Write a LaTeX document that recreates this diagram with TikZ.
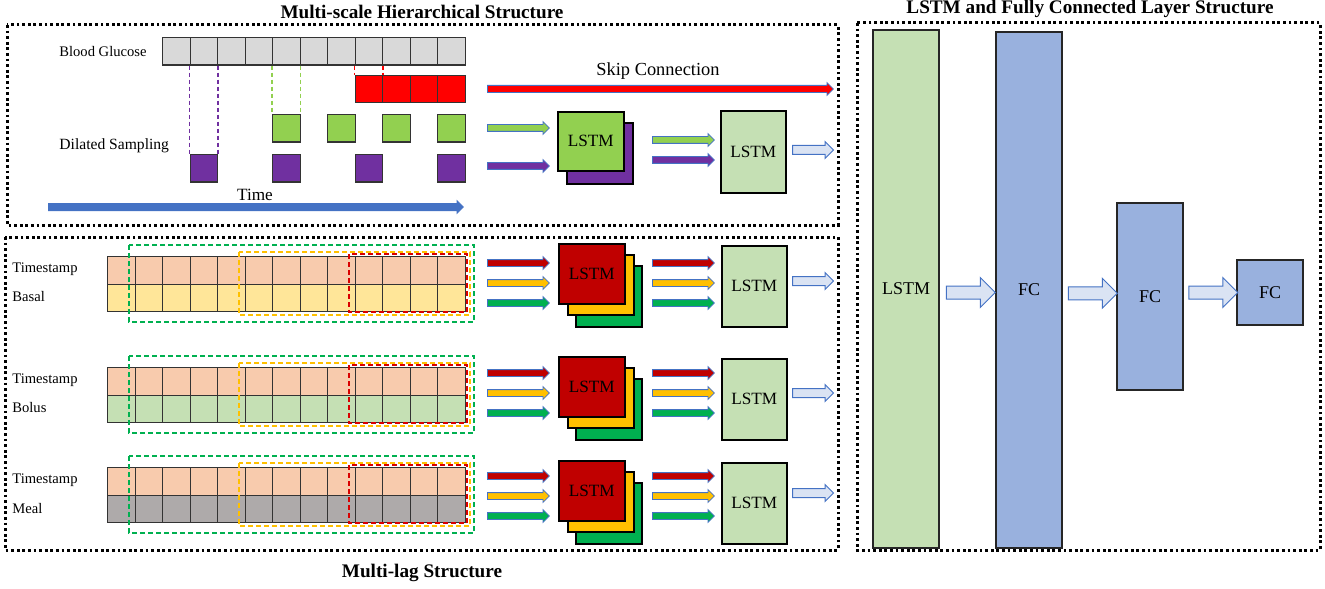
\documentclass[tikz,border=0pt]{standalone}
\usepackage{fontspec}
\setmainfont{Liberation Serif}
\usepackage{tikz}
\usetikzlibrary{positioning, calc, shapes.arrows}
\definecolor{cellgray}{RGB}{217,217,217}
\definecolor{dsgreen}{RGB}{146,208,80}
\definecolor{dspurple}{RGB}{112,48,160}
\definecolor{lstmgreen}{RGB}{197,224,180}
\definecolor{fcblue}{RGB}{153,177,222}
\definecolor{tsorange}{RGB}{248,203,173}
\definecolor{basalc}{RGB}{255,230,153}
\definecolor{bolusc}{RGB}{197,224,180}
\definecolor{mealc}{RGB}{174,170,170}
\definecolor{lagred}{RGB}{192,0,0}
\definecolor{lagyellow}{RGB}{255,192,0}
\definecolor{laggreen}{RGB}{0,176,80}
\definecolor{arrowedge}{RGB}{68,114,196}
\definecolor{arrowfill}{RGB}{218,227,243}
\definecolor{timeblue}{RGB}{68,114,196}
\tikzset{
  gridcell/.style={
    draw=black!80, line width=0.55pt, minimum width=13.75pt,
    minimum height=13.75pt, inner sep=0pt, anchor=north west
  },
  lstmbox/.style={
    draw=black, line width=0.8pt, inner sep=0pt, anchor=north west,
    minimum width=33pt, font=\fontsize{8.6}{10}\selectfont
  },
  fcbox/.style={
    draw=black!85, line width=0.8pt, inner sep=0pt, minimum width=33pt,
    font=\fontsize{9}{11}\selectfont
  },
  sidetext/.style={anchor=west, inner sep=0pt, font=\fontsize{7.3}{9}\selectfont},
  titletext/.style={inner sep=0pt, font=\bfseries\fontsize{9.6}{11}\selectfont},
  sectionbox/.style={draw=black, line width=1.5pt, dash pattern=on 1.4pt off 1.4pt},
  sampline/.style={draw=#1, line width=0.7pt, dash pattern=on 2pt off 1.5pt},
  lagbox/.style={draw=#1, line width=0.65pt, dash pattern=on 2.5pt off 1.5pt},
  colarrow/.style={
    single arrow, draw=arrowedge, line width=0.4pt, fill=#1, inner xsep=0pt,
    inner ysep=1.5pt, single arrow head extend=1.5pt, minimum height=31pt, anchor=tail
  },
  longarrow/.style={
    single arrow, draw=arrowedge, line width=0.4pt, fill=#1, inner xsep=0pt,
    inner ysep=1.6pt, single arrow head extend=1.4pt, anchor=tail
  },
  blockarrow/.style={
    single arrow, draw=arrowedge, fill=arrowfill, line width=0.5pt, inner xsep=0pt,
    inner ysep=3pt, single arrow head extend=4.25pt, minimum height=24.5pt
  },
  smallblock/.style={
    single arrow, draw=arrowedge, fill=arrowfill, line width=0.5pt, inner xsep=0pt,
    inner ysep=2pt, single arrow head extend=2pt, minimum height=20.5pt, anchor=tail
  },
}
\begin{document}
\begin{tikzpicture}[x=0.5pt, y=-0.5pt]
  \useasboundingbox (0,0) rectangle (1325,588);

  % titles and frames
  \node[titletext] (ttop) at (422,12) {Multi-scale Hierarchical Structure};
  \node[titletext] (tbot) at (422,573) {Multi-lag Structure};
  \node[titletext] (tright) at (1090,9) {LSTM and Fully Connected Layer Structure};
  \draw[sectionbox] (7,25) rectangle (838,225);
  \draw[sectionbox] (5,237) rectangle (838,550);
  \draw[sectionbox] (857,23) rectangle (1320,550);

  % multi-scale part
  \node[sidetext] (bglab) at (59,52) {Blood Glucose};
  \node[sidetext, font=\fontsize{7.8}{9}\selectfont] (dslab) at (59,146) {Dilated Sampling};
  \foreach \i in {0,...,10}
    \node[gridcell, fill=cellgray] (bg\i) at ({162+27.5*\i},37) {};
  \foreach \i in {7,...,10}
    \node[gridcell, fill=red, minimum height=13.5pt] (sk\i) at ({162+27.5*\i},75) {};
  \foreach \i in {4,6,8,10}
    \node[gridcell, fill=dsgreen] (dg\i) at ({162+27.5*\i},114) {};
  \foreach \i in {1,4,7,10}
    \node[gridcell, fill=dspurple] (dp\i) at ({162+27.5*\i},154) {};
  \draw[sampline=dspurple] (bg1.south west) -- (dp1.north west) (bg1.south east) -- (dp1.north east);
  \draw[sampline=dsgreen] (bg4.south west) -- (dg4.north west) (bg4.south east) -- (dg4.north east);
  \draw[sampline=red] (bg7.south west) -- (sk7.north west) (bg7.south east) -- (sk7.north east);

  \node[font=\fontsize{8.6}{10}\selectfont, inner sep=0pt] (timelab) at (255,195) {Time};
  \node[longarrow=timeblue, minimum height=207.5pt] (timearr) at (48,207) {};
  \node[font=\fontsize{9.2}{11}\selectfont, inner sep=0pt] (skiplab) at (658,71) {Skip Connection};
  \node[longarrow=red, minimum height=173pt] (skiparr) at (487,89) {};

  \node[colarrow=dsgreen] (ing) at (487,128) {};
  \node[colarrow=dspurple] (inp) at (487,166) {};
  \node[lstmbox, fill=dspurple, minimum height=30.5pt] (msback) at (566,122) {};
  \node[lstmbox, fill=dsgreen, minimum height=29.5pt] (msfront) at (557,111) {LSTM};
  \node[colarrow=dsgreen] (outg) at (652,140) {};
  \node[colarrow=dspurple] (outp) at (652,160) {};
  \node[lstmbox, fill=lstmgreen, minimum width=32.5pt, minimum height=41pt] (mslstm) at (720,110) {LSTM};
  \node[smallblock] (msout) at (792,150) {};

  % multi-lag part
  \foreach \c/\s/\a/\o/\r/\lab/\col in {256/243/263/281/a/Basal/basalc,
                                        367/356/373/393/b/Bolus/bolusc,
                                        467/460/476/493/c/Meal/mealc}{
    \node[sidetext] (ts\r) at (12,\c+13) {Timestamp};
    \node[sidetext] (dv\r) at (12,\c+41) {\lab};
    \foreach \i in {0,...,12}{
      \node[gridcell, fill=tsorange] (t\r\i) at ({107+27.5*\i},\c) {};
      \node[gridcell, fill=\col] (d\r\i) at ({107+27.5*\i},\c+27.5) {};
    }
    \draw[lagbox=laggreen] (129,\c-11) rectangle (474,\c+66);
    \draw[lagbox=lagyellow] (239,\c-4) rectangle (470,\c+59);
    \draw[lagbox=red!85!black] (349,\c-2) rectangle (467,\c+56);

    \node[colarrow=lagred] (ir\r) at (487,\a) {};
    \node[colarrow=lagyellow] (iy\r) at (487,\a+20) {};
    \node[colarrow=laggreen] (ig\r) at (487,\a+40) {};
    \node[lstmbox, fill=laggreen, minimum height=30.5pt] (sg\r) at (575,\s+22) {};
    \node[lstmbox, fill=lagyellow, minimum height=30pt] (sy\r) at (567,\s+11) {};
    \node[lstmbox, fill=lagred, minimum height=30pt] (sr\r) at (558,\s) {LSTM};
    \node[colarrow=lagred] (or\r) at (652,\a) {};
    \node[colarrow=lagyellow] (oy\r) at (652,\a+20) {};
    \node[colarrow=laggreen] (og\r) at (652,\a+40) {};
    \node[lstmbox, fill=lstmgreen, minimum width=32.5pt, minimum height=40.5pt] (l\r) at (721,\s+2) {LSTM};
    \node[smallblock] (out\r) at (792,\o) {};
  }

  % LSTM and fully connected part
  \node[fcbox, fill=lstmgreen, minimum height=259pt] (bigl) at (906,289) {LSTM};
  \node[fcbox, fill=fcblue, minimum height=258pt] (fc1) at (1029,290) {FC};
  \node[fcbox, fill=fcblue, minimum height=93.5pt] (fc2) at (1150,296.5) {FC};
  \node[fcbox, fill=fcblue, minimum height=32.5pt] (fc3) at (1270,292.5) {FC};
  \node[blockarrow] (fa1) at ($(bigl.east)!0.5!(fc1.west)+(0,3)$) {};
  \node[blockarrow] (fa2) at ($(fc1.east)!0.5!(fc2.west)$) {};
  \node[blockarrow] (fa3) at ($(fc2.east)!0.5!(fc3.west)-(0,2)$) {};
\end{tikzpicture}
\end{document}
